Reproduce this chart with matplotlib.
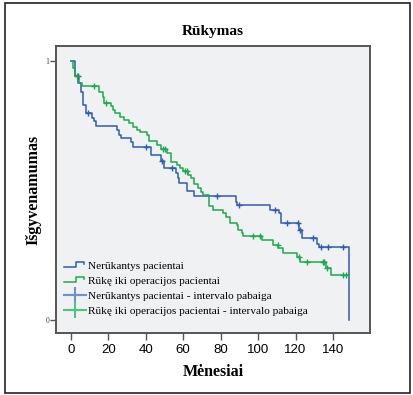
import numpy as np
import matplotlib
matplotlib.use("Agg")
import matplotlib.pyplot as plt
from matplotlib.lines import Line2D
from matplotlib.legend_handler import HandlerBase
from matplotlib.patches import Rectangle

# ---------------- data ----------------
title = "Rūkymas"
xlabel = "Mėnesiai"
ylabel = "Išgyvenamumas"
xticks = [0, 20, 40, 60, 80, 100, 120, 140]
yticks = [0, 1]
labels = ["Nerūkantys pacientai", "Rūkę iki operacijos pacientai",
          "Nerūkantys pacientai - intervalo pabaiga",
          "Rūkę iki operacijos pacientai - intervalo pabaiga"]

# Non-smokers: event times and survival after each step
blue_t = [0, 2.0, 3.9, 5.3, 6.2, 8.0, 11.4, 12.5, 13.4, 24.7, 25.8, 26.7, 31.9, 33.0,
          42.7, 48.0, 49.9, 56.0, 57.0, 57.9, 61.8, 65.9, 88.0, 88.9, 106.4, 111.2,
          112.2, 122.0, 123.3, 131.6, 132.8, 148.7]
blue_s = [1.0, 0.94, 0.914, 0.878, 0.830, 0.798, 0.779, 0.766, 0.749, 0.734, 0.714, 0.701,
          0.685, 0.667, 0.635, 0.615, 0.586, 0.566, 0.547, 0.530, 0.498, 0.479, 0.457,
          0.443, 0.425, 0.412, 0.376, 0.347, 0.315, 0.295, 0.281, 0.0]
blue_cens = [3.5, 9.0, 40.1, 48.5, 53.8, 77.9, 90.0, 109.0, 115.3, 121.2, 122.6, 129.5,
             133.5, 137.5, 145.5]

# Smokers
green_t = [0, 1.2, 2.0, 4.5, 5.7, 15.1, 16.9, 17.8, 21.2, 22.2, 23.5, 26.2, 28.5, 31.0,
           33.3, 35.1, 36.9, 40.8, 41.9, 45.8, 47.9, 51.1, 53.4, 56.8, 58.3, 60.0, 62.4,
           64.0, 65.7, 68.0, 69.5, 70.7, 73.9, 76.1, 81.4, 82.8, 85.0, 88.6, 89.4, 91.2,
           92.1, 102.2, 108.1, 110.8, 113.1, 121.0, 122.4, 136.3, 138.8, 148.8]
green_s = [1.0, 0.972, 0.94, 0.914, 0.903, 0.879, 0.862, 0.837, 0.824, 0.811, 0.798, 0.785,
           0.772, 0.760, 0.746, 0.734, 0.727, 0.714, 0.692, 0.676, 0.659, 0.644, 0.611,
           0.598, 0.586, 0.573, 0.560, 0.547, 0.525, 0.508, 0.495, 0.483, 0.438, 0.425,
           0.412, 0.396, 0.376, 0.367, 0.347, 0.335, 0.324, 0.309, 0.290, 0.277, 0.260,
           0.245, 0.225, 0.200, 0.174, 0.174]
green_cens = [3.4, 12.3, 18.8, 49.0, 50.0, 61.0, 62.0, 97.5, 101.0, 110.5, 121.6, 126.0,
              134.5, 135.2, 136.9, 145.6, 147.0]

# ---------------- style ----------------
BLUE = "#2E5DB3"
GREEN = "#1DAA4E"
BLUE_L = "#6E90D2"
GREEN_L = "#4DC57E"
SERIF = ["Liberation Serif", "DejaVu Serif"]
SANS = ["Liberation Sans", "DejaVu Sans"]

W, H = 413, 395
fig = plt.figure(figsize=(W / 100, H / 100), dpi=100)
fig.patch.set_facecolor("white")

# outer frame
fig.add_artist(Rectangle((5 / W, 1 - 393 / H), (410 - 5) / W, (393 - 3) / H,
                         transform=fig.transFigure, fill=False, edgecolor="#222222",
                         linewidth=1.2))

ax = fig.add_axes([56 / W, 1 - 333 / H, (370 - 56) / W, (333 - 46) / H])
ax.set_facecolor("#F0F1F3")
for sp in ax.spines.values():
    sp.set_color("#555555")
    sp.set_linewidth(1.4)

ax.set_xlim(-8.0, 159.8)
ax.set_ylim(-0.050, 1.057)


def survival_at(times, surv, t):
    idx = np.searchsorted(np.asarray(times), t, side="right") - 1
    return np.asarray(surv)[idx]


line_b, = ax.step(blue_t, blue_s, where="post", color=BLUE, lw=1.1)
line_g, = ax.step(green_t, green_s, where="post", color=GREEN, lw=1.1)
ax.plot(blue_cens, [survival_at(blue_t, blue_s, t) for t in blue_cens], ls="none",
        marker="+", ms=5, mew=1.0, color=BLUE)
ax.plot(green_cens, [survival_at(green_t, green_s, t) for t in green_cens], ls="none",
        marker="+", ms=5, mew=1.0, color=GREEN)

ax.set_xticks(xticks)
ax.set_xticklabels([str(v) for v in xticks], fontfamily=SANS, fontsize=9.5)
ax.set_yticks(yticks)
ax.set_yticklabels([str(v) for v in yticks], fontfamily=SERIF, fontsize=5.5, color="#444444")
ax.tick_params(axis="x", length=5, width=1.0, color="#555555", pad=3)
ax.tick_params(axis="y", length=4, width=1.0, color="#555555", pad=1)

fig.text(213 / W, 1 - 32 / H, title, ha="center", va="center", fontfamily=SERIF,
         fontweight="bold", fontsize=11)
fig.text(213 / W, 1 - 372 / H, xlabel, ha="center", va="center", fontfamily=SERIF,
         fontweight="bold", fontsize=11.5)
fig.text(33 / W, 1 - 190 / H, ylabel, ha="center", va="center", rotation=90,
         fontfamily=SERIF, fontweight="bold", fontsize=11.5)


class StepHandler(HandlerBase):
    def create_artists(self, legend, orig_handle, xdescent, ydescent, width, height,
                       fontsize, trans):
        x0 = -xdescent
        y0 = -ydescent
        xs = np.array([0.0, 0.55, 0.55, 0.95, 0.95]) * width + x0
        ys = np.array([0.2, 0.2, 0.85, 0.85, 0.6]) * height + y0
        ln = Line2D(xs, ys, color=orig_handle.get_color(), lw=1.1)
        ln.set_transform(trans)
        return [ln]


h_cb = Line2D([], [], color=BLUE_L, lw=1.5, marker="+", ms=11, mew=1.5)
h_cg = Line2D([], [], color=GREEN_L, lw=1.5, marker="+", ms=11, mew=1.5)
leg = ax.legend([line_b, line_g, h_cb, h_cg], labels,
                handler_map={line_b: StepHandler(), line_g: StepHandler()},
                loc="upper left", bbox_to_anchor=(64 / W, 1 - 261 / H),
                bbox_transform=fig.transFigure, frameon=False,
                prop={"family": SERIF, "size": 8.15}, borderpad=0, borderaxespad=0,
                handlelength=1.9, handletextpad=0.2, labelspacing=0.45)

fig.savefig("out.png", dpi=100, facecolor="white")
